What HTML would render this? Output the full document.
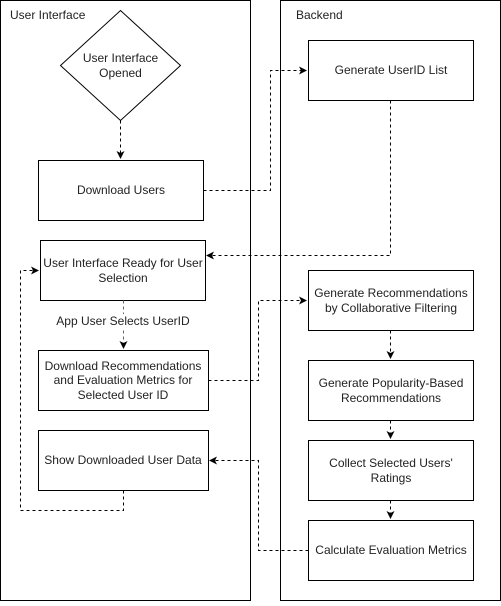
<!DOCTYPE html>
<html><head><style>
body{margin:0;background:#fff;}
svg text{font-family:"Liberation Sans",Arial,sans-serif;font-size:12px;fill:#222;}
</style></head><body>
<svg width="501" height="601" xmlns="http://www.w3.org/2000/svg">
<defs><marker id="a" markerWidth="8" markerHeight="8" refX="7" refY="4" orient="auto" markerUnits="userSpaceOnUse"><path d="M0,0 L8,4 L0,8 L2,4 Z" fill="#000"/></marker></defs>
<g fill="none" stroke="#000" stroke-width="1">
<rect x="0.5" y="0.5" width="250" height="600"/>
<rect x="280.5" y="0.5" width="220" height="600"/>
<polygon points="120.5,10.5 180.5,65.5 120.5,120.5 60.5,65.5"/>
<rect x="38.5" y="160.5" width="165" height="60"/>
<rect x="40.5" y="240.5" width="165" height="60"/>
<rect x="38.5" y="350.5" width="170" height="60"/>
<rect x="38.5" y="430.5" width="170" height="60"/>
<rect x="308.5" y="40.5" width="165" height="60"/>
<rect x="308.5" y="270.5" width="165" height="60"/>
<rect x="308.5" y="360.5" width="165" height="60"/>
<rect x="308.5" y="440.5" width="165" height="60"/>
<rect x="308.5" y="520.5" width="165" height="60"/>
</g>
<g fill="none" stroke="#000" stroke-width="1" stroke-dasharray="3,3">
<path d="M120.5,120.5 V158" marker-end="url(#a)"/>
<path d="M203.5,190.5 H270.5 V70.5 H306" marker-end="url(#a)"/>
<path d="M390.5,100.5 V255.5 H207" marker-end="url(#a)"/>
<path d="M123.5,300.5 V348" marker-end="url(#a)" stroke="#666"/>
<path d="M208.5,380.5 H258.5 V300.5 H306" marker-end="url(#a)"/>
<path d="M390.5,330.5 V358" marker-end="url(#a)"/>
<path d="M390.5,420.5 V438" marker-end="url(#a)"/>
<path d="M390.5,500.5 V518" marker-end="url(#a)"/>
<path d="M308.5,550.5 H258.5 V460.5 H210" marker-end="url(#a)"/>
<path d="M123.5,490.5 V510.5 H20.5 V270.5 H38" marker-end="url(#a)"/>
</g>
<rect x="58" y="314" width="130" height="14" fill="#fff"/>
<text x="10" y="19">User Interface</text>
<text x="296" y="19">Backend</text>
<g text-anchor="middle">
<text x="120.5" y="62">User Interface</text>
<text x="120.5" y="77">Opened</text>
<text x="121" y="194">Download Users</text>
<text x="123" y="267">User Interface Ready for User</text>
<text x="123" y="282">Selection</text>
<text x="123" y="325" font-size="11">App User Selects UserID</text>
<text x="123" y="370">Download Recommendations</text>
<text x="123" y="384">and Evaluation Metrics for</text>
<text x="123" y="399">Selected User ID</text>
<text x="123" y="464">Show Downloaded User Data</text>
<text x="391" y="74">Generate UserID List</text>
<text x="391" y="297">Generate Recommendations</text>
<text x="391" y="312">by Collaborative Filtering</text>
<text x="391" y="387">Generate Popularity-Based</text>
<text x="391" y="402">Recommendations</text>
<text x="391" y="467">Collect Selected Users'</text>
<text x="391" y="482">Ratings</text>
<text x="391" y="554">Calculate Evaluation Metrics</text>
</g>
</svg>
</body></html>
